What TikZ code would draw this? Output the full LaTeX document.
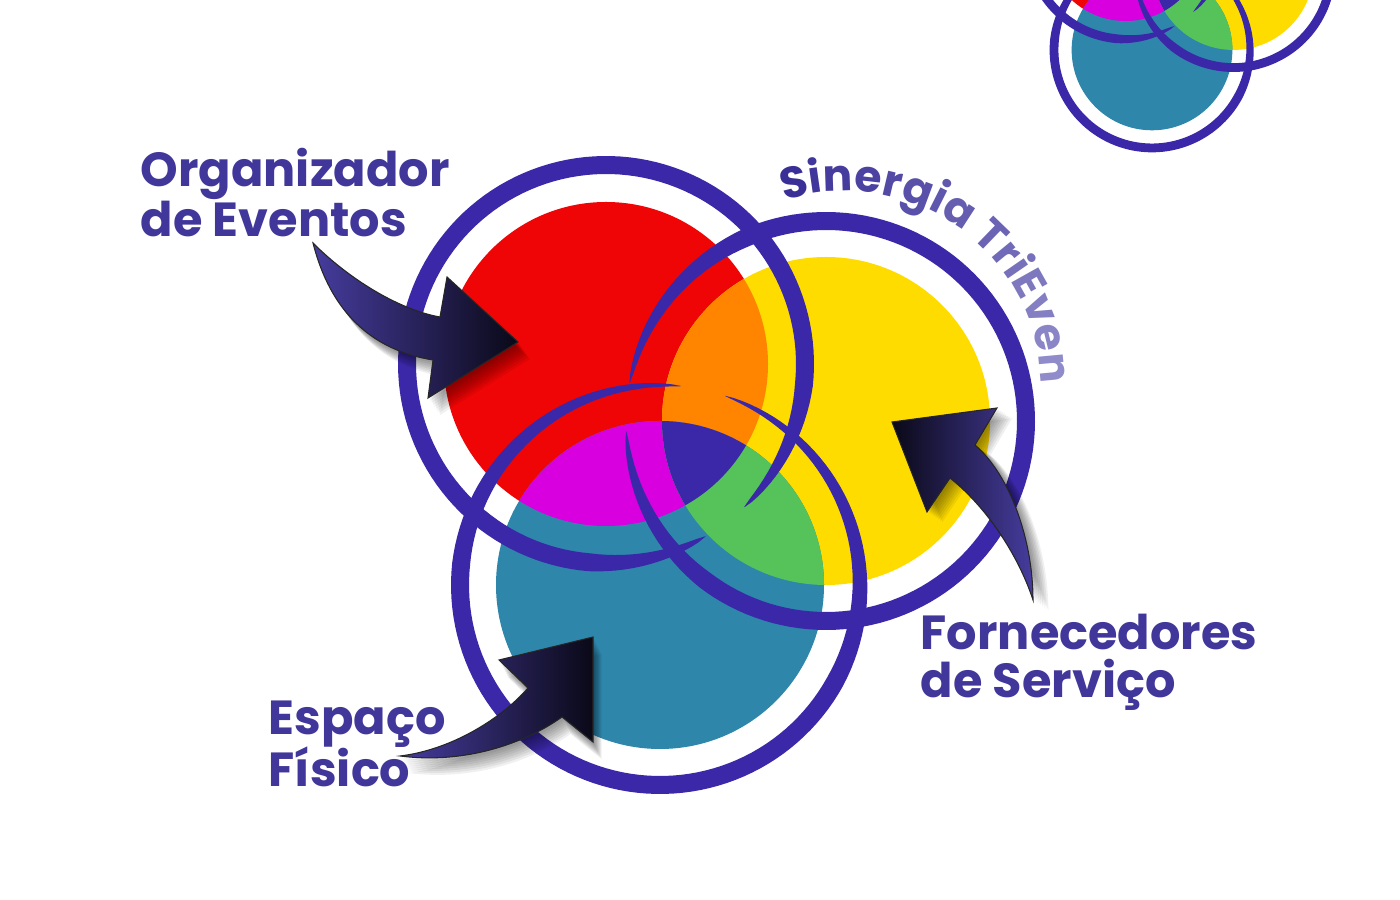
\documentclass[tikz,border=0pt]{standalone}
\usepackage{fontspec}
\setmainfont{Poppins}
\usetikzlibrary{calc}
\usetikzlibrary{decorations.text}

\definecolor{redc}{HTML}{EF0505}
\definecolor{yelc}{HTML}{FFDC00}
\definecolor{tealc}{HTML}{2E86AB}
\definecolor{orangec}{HTML}{FF8500}
\definecolor{magc}{HTML}{D800DF}
\definecolor{greenc}{HTML}{55C25A}
\definecolor{purc}{HTML}{3B28A8}
\definecolor{lblc}{HTML}{41379B}
\definecolor{sinA}{HTML}{3A2F97}
\definecolor{sinB}{HTML}{908BCA}
\definecolor{arrlight}{HTML}{463C9E}
\definecolor{arrdark}{HTML}{0A0917}

\newcommand{\sinfont}{\fontsize{12.5}{12.5}\selectfont\bfseries}

\tikzset{
  ringfill/.style={fill=purc},
  lbl/.style={text=lblc, font=\fontsize{13.6}{13.6}\selectfont\bfseries, anchor=base west, inner sep=0pt},
  arrowbody/.style={draw=black!85, line width=0.3pt},
  arrowshadow/.style={fill=black, opacity=0.06}
}

% ring with tapered ends: cx, cy, R, width, from, to, taper at from, taper at to
\newcommand{\tapring}[8]{%
  \fill[ringfill] plot[domain=#5:#6, samples=140]
    ({#1+(#3+#4/2*min(1,pow(max(0.001,(\x-#5)/#7),0.6),pow(max(0.001,(#6-\x)/#8),0.6)))*cos(\x)},
     {#2+(#3+#4/2*min(1,pow(max(0.001,(\x-#5)/#7),0.6),pow(max(0.001,(#6-\x)/#8),0.6)))*sin(\x)})
    -- plot[domain=#6:#5, samples=140]
    ({#1+(#3-#4/2*min(1,pow(max(0.001,(\x-#5)/#7),0.6),pow(max(0.001,(#6-\x)/#8),0.6)))*cos(\x)},
     {#2+(#3-#4/2*min(1,pow(max(0.001,(\x-#5)/#7),0.6),pow(max(0.001,(#6-\x)/#8),0.6)))*sin(\x)})
    -- cycle;}

% the three discs and their rings
\newcommand{\drawtrilogo}{%
  \fill[redc] (606,536) circle (162);
  \fill[yelc] (826,479) circle (164);
  \fill[tealc] (660,315) circle (164);
  \begin{scope}
    \clip (606,536) circle (162);
    \fill[orangec] (826,479) circle (164);
    \fill[magc] (660,315) circle (164);
  \end{scope}
  \begin{scope}
    \clip (826,479) circle (164);
    \fill[greenc] (660,315) circle (164);
  \end{scope}
  \begin{scope}
    \clip (606,536) circle (162);
    \clip (826,479) circle (164);
    \fill[purc] (660,315) circle (164);
  \end{scope}
  \tapring{606}{536}{199}{18}{-46}{300}{40}{35}
  \tapring{826}{479}{200}{18}{183}{529}{50}{55}
  \tapring{660}{315}{200}{18}{84}{431}{90}{100}
}

% arrow outlines
\newcommand{\orgarrow}{(313,657) .. controls (350,620) and (400,590) .. (440,583) -- (447,623) -- (518,558)
    -- (428,502) -- (433,540) .. controls (370,550) and (330,590) .. (313,657) -- cycle}
\newcommand{\forarrow}{(975,455) .. controls (1010,425) and (1033,360) .. (1033,300)
    .. controls (1020,340) and (990,390) .. (950,422) -- (927,388) -- (892,478) -- (997,492) -- cycle}
\newcommand{\esparrow}{(400,144) .. controls (450,150) and (500,180) .. (528,212) -- (499,240) -- (593,263)
    -- (593,158) -- (562,183) .. controls (530,160) and (470,135) .. (400,144) -- cycle}

\begin{document}
\begin{tikzpicture}[x=0.01cm, y=0.01cm]
  \useasboundingbox (0,0) rectangle (1400,900);
  \clip (0,0) rectangle (1400,900);
  \fill[white] (0,0) rectangle (1400,900);

  % small logo, top right
  \begin{scope}[shift={(828.6,695.7)}, scale=0.49]
    \drawtrilogo
  \end{scope}

  % main logo
  \drawtrilogo

  % curved title
  \path[decorate, decoration={text along path, text align=fit to path,
      text={|\sinfont\color{sinA}|S|\sinfont\color{sinA!93!sinB}|i|\sinfont\color{sinA!86!sinB}|n|\sinfont\color{sinA!79!sinB}|e|\sinfont\color{sinA!71!sinB}|r|\sinfont\color{sinA!64!sinB}|g|\sinfont\color{sinA!57!sinB}|i|\sinfont\color{sinA!50!sinB}|a |\sinfont\color{sinA!43!sinB}|T|\sinfont\color{sinA!36!sinB}|r|\sinfont\color{sinA!29!sinB}|i|\sinfont\color{sinA!21!sinB}|E|\sinfont\color{sinA!14!sinB}|v|\sinfont\color{sinA!7!sinB}|e|\sinfont\color{sinB}|n}}]
    (845,513) ++(108:196) arc (108:1:196);

  % labels
  \node[lbl] (org1) at (140,713) {Organizador};
  \node[lbl] (org2) at (140,663) {de Eventos};
  \node[lbl] (esp1) at (268,165) {Espaço};
  \node[lbl] (esp2) at (268,113) {Físico};
  \node[lbl] (for1) at (920,250) {Fornecedores};
  \node[lbl] (for2) at (920,202) {de Serviço};

  % arrows with soft shadows
  \foreach \d in {3,5,...,17}{
    \fill[arrowshadow, shift={(0.7*\d,-\d)}] \orgarrow;
    \fill[arrowshadow, shift={(0.9*\d,-0.6*\d)}] \forarrow;
    \fill[arrowshadow, shift={(0.5*\d,-\d)}] \esparrow;
  }
  \path[arrowbody, left color=arrlight, right color=arrdark] \orgarrow;
  \path[arrowbody, left color=arrdark, right color=arrlight] \forarrow;
  \path[arrowbody, left color=arrlight, right color=arrdark] \esparrow;
\end{tikzpicture}
\end{document}
